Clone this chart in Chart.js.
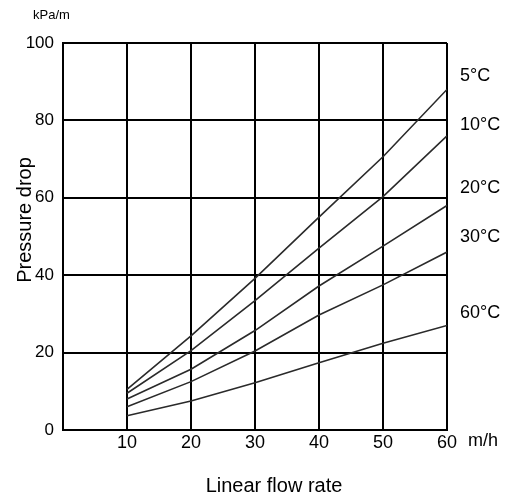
<!DOCTYPE html>
<html>
<head>
<meta charset="utf-8">
<script src="https://cdn.jsdelivr.net/npm/chart.js@4/dist/chart.umd.min.js"></script>
<style>
  html, body { margin: 0; padding: 0; background: #fff; }
  #wrap { width: 507px; height: 498px; }
</style>
</head>
<body>
<div id="wrap"><canvas id="c" width="507" height="498"></canvas></div>
<script>
// flow rate (m/h) on x, pressure drop (kPa/m) on y
const flowRates = [10, 20, 30, 40, 50, 60];
const temps = ['5°C', '10°C', '20°C', '30°C', '60°C'];
const drop5 = [10.5, 24.3, 39.2, 55, 70.6, 88];
const drop10 = [9.5, 20.5, 33.4, 47, 60.3, 76];
const drop20 = [8, 15.7, 25.7, 37.2, 47.5, 58];
const drop30 = [6, 12.5, 20.4, 29.7, 37.5, 46];
const drop60 = [3.7, 7.5, 12.2, 17.4, 22.4, 27];
// where each temperature label sits, on the y scale
const labelLevels = [91.5, 78.8, 62.5, 49.9, 30.2];

const FONT = "'Liberation Sans', Arial, sans-serif";
const series = [drop5, drop10, drop20, drop30, drop60];

function pts(vals) {
  return flowRates.map(function (x, i) { return { x: x, y: vals[i] }; });
}

const textPlugin = {
  id: 'texts',
  afterDraw(chart) {
    const ctx = chart.ctx;
    const xs = chart.scales.x, ys = chart.scales.y;
    ctx.save();
    ctx.fillStyle = '#000';
    ctx.textBaseline = 'middle';

    ctx.font = '13px ' + FONT;
    ctx.textAlign = 'left';
    ctx.fillText('kPa/m', 33, 15);

    ctx.font = '18px ' + FONT;
    ctx.fillText('m/h', xs.right + 21, 441);

    temps.forEach(function (t, i) {
      ctx.fillText(t, xs.right + 13, ys.getPixelForValue(labelLevels[i]));
    });

    ctx.font = '20px ' + FONT;
    ctx.textAlign = 'center';
    ctx.fillText('Linear flow rate', 274, 486);

    ctx.translate(25, 220);
    ctx.rotate(-Math.PI / 2);
    ctx.fillText('Pressure drop', 0, 0);
    ctx.restore();
  }
};

new Chart(document.getElementById('c'), {
  type: 'line',
  data: {
    datasets: series.map(function (s, i) {
      return {
        label: temps[i],
        data: pts(s),
        borderColor: '#2a2a2a',
        borderWidth: 1.6,
        pointRadius: 0,
        tension: 0,
        fill: false
      };
    })
  },
  options: {
    responsive: false,
    animation: false,
    layout: { padding: { top: 43, right: 60, left: 0, bottom: 0 } },
    plugins: { legend: { display: false }, tooltip: { enabled: false } },
    scales: {
      x: {
        type: 'linear',
        min: 0, max: 60,
        afterFit(scale) { scale.height = 68; },
        grid: { color: '#000', lineWidth: 2, drawTicks: false },
        border: { color: '#000', width: 2 },
        ticks: {
          stepSize: 10,
          padding: 2,
          color: '#000',
          font: { family: FONT, size: 18 },
          maxRotation: 0,
          callback: function (v) { return v === 0 ? '' : v; }
        }
      },
      y: {
        min: 0, max: 100,
        afterFit(scale) { scale.width = 63; },
        grid: { color: '#000', lineWidth: 2, drawTicks: false },
        border: { color: '#000', width: 2 },
        ticks: {
          stepSize: 20,
          padding: 9,
          color: '#000',
          font: { family: FONT, size: 17 }
        }
      }
    }
  },
  plugins: [textPlugin]
});
</script>
</body>
</html>
